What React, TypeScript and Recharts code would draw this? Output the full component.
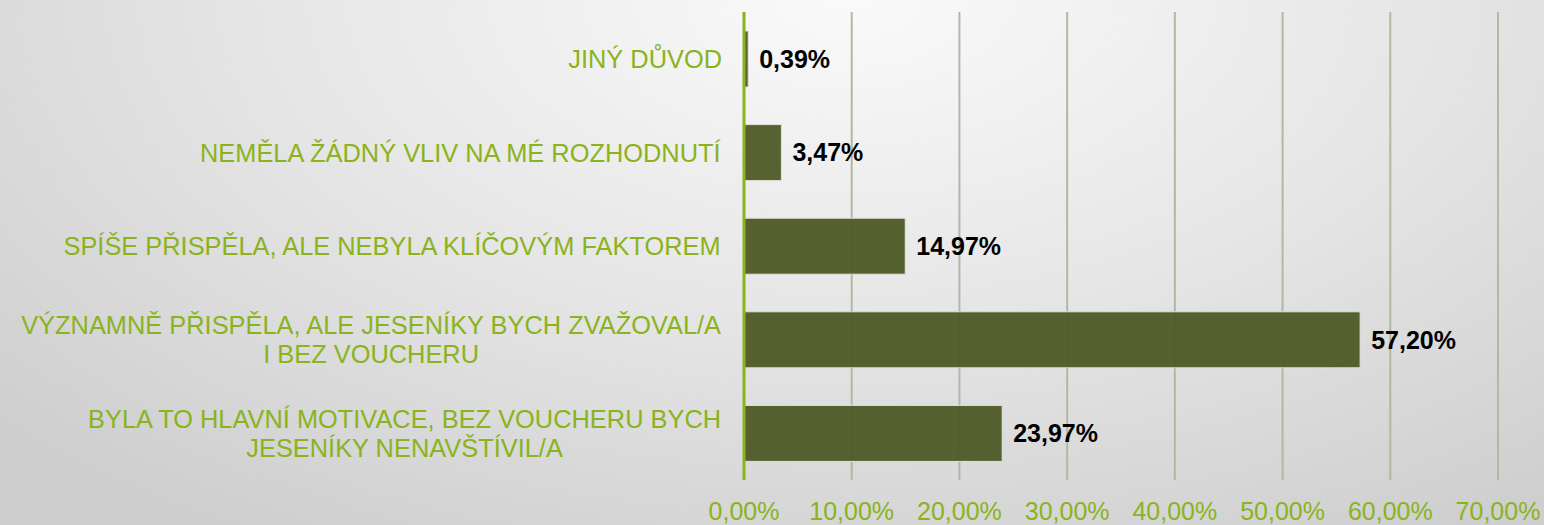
import React from "react";
import { BarChart, Bar, XAxis, YAxis, CartesianGrid, LabelList } from "recharts";

const categories = [
  "JINÝ DŮVOD",
  "NEMĚLA ŽÁDNÝ VLIV NA MÉ ROZHODNUTÍ",
  "SPÍŠE PŘISPĚLA, ALE NEBYLA KLÍČOVÝM FAKTOREM",
  "VÝZNAMNĚ PŘISPĚLA, ALE JESENÍKY BYCH ZVAŽOVAL/A\nI BEZ VOUCHERU",
  "BYLA TO HLAVNÍ MOTIVACE, BEZ VOUCHERU BYCH\nJESENÍKY NENAVŠTÍVIL/A",
];
const values = [0.39, 3.47, 14.97, 57.2, 23.97];
const xTicks = [0, 10, 20, 30, 40, 50, 60, 70];

const data = categories.map((c, i) => ({ name: c, value: values[i] }));

const GREEN = "#8AB31C";
const FONT = '"Liberation Sans", Arial, sans-serif';
const CAT_FS = 25.4;
const fmt = (v: number) => v.toFixed(2).replace(".", ",") + "%";

let ctx: CanvasRenderingContext2D | null = null;
const measure = (s: string) => {
  if (!ctx && typeof document !== "undefined") {
    ctx = document.createElement("canvas").getContext("2d");
  }
  if (!ctx) return s.length * 14;
  ctx.font = `${CAT_FS}px ${FONT}`;
  return ctx.measureText(s).width;
};

const CatTick = (props: any) => {
  const { x, y, payload } = props;
  const lines: string[] = String(payload.value).split("\n");
  const w = Math.max(...lines.map(measure));
  const cx = x - w / 2;
  const lh = 29;
  const startY = y - ((lines.length - 1) * lh) / 2;
  return (
    <g>
      {lines.map((l, i) => (
        <text
          key={i}
          x={cx}
          y={startY + i * lh}
          dy="0.36em"
          textAnchor="middle"
          fill={GREEN}
          fontSize={CAT_FS}
          fontFamily={FONT}
        >
          {l}
        </text>
      ))}
    </g>
  );
};

export default function App() {
  return (
    <div
      style={{
        width: 1544,
        height: 525,
        background:
          "radial-gradient(ellipse 75% 120% at 55% 0%, #fafafa 0%, #e6e6e6 50%, #cecece 100%)",
      }}
    >
      <style>{"body{margin:0}"}</style>
      <BarChart
        width={1544}
        height={525}
        data={data}
        layout="vertical"
        margin={{ top: 12, right: 46, left: 0, bottom: 0 }}
        barSize={56}
      >
        <CartesianGrid
          horizontal={false}
          vertical={true}
          stroke="#b4b7a2"
          strokeWidth={2}
        />
        <XAxis
          type="number"
          domain={[0, 70]}
          ticks={xTicks}
          axisLine={false}
          tickLine={false}
          tickMargin={16}
          height={45}
          tickFormatter={(v: number) => fmt(v)}
          tick={{ fill: GREEN, fontSize: 25, fontFamily: FONT }}
          interval={0}
        />
        <YAxis
          type="category"
          dataKey="name"
          width={744}
          axisLine={{ stroke: GREEN, strokeWidth: 3 }}
          tickLine={false}
          tickMargin={16}
          tick={<CatTick />}
          interval={0}
        />
        <Bar
          dataKey="value"
          fill="#4D5A27"
          fillOpacity={0.95}
          stroke="#e2e2d8"
          strokeWidth={1}
          isAnimationActive={false}
        >
          <LabelList
            dataKey="value"
            position="right"
            offset={11}
            formatter={(v: any) => fmt(Number(v))}
            fill="#000"
            fontSize={25}
            fontWeight="bold"
            fontFamily={FONT}
          />
        </Bar>
      </BarChart>
    </div>
  );
}
